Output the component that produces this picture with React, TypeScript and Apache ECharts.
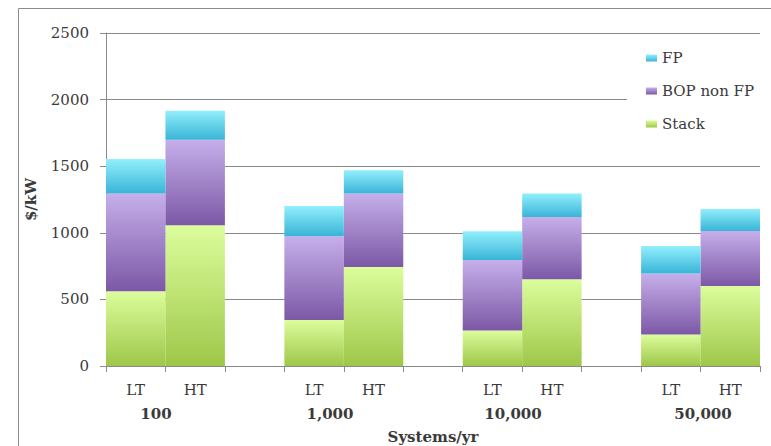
import React, { useEffect, useRef } from "react";
import * as echarts from "echarts";

// Production volume groups and the two stack technologies shown in each
const groups = ["100", "1,000", "10,000", "50,000"];
const technologies = ["LT", "HT"];

// Cost components in $/kW, one value per group
const stackLT = [562, 345, 267, 237];
const stackHT = [1057, 744, 652, 600];
const bopLT = [733, 630, 528, 458];
const bopHT = [642, 551, 467, 414];
const fpLT = [259, 227, 217, 205];
const fpHT = [218, 174, 176, 165];

const yTicks = { min: 0, max: 2500, interval: 500 };

const FONT = "DejaVu Serif";
const TEXT = "#3a3a3a";
const LINE = "#8a8a8a";

// Categories: LT, HT pairs separated by an empty spacer slot
const categories: string[] = [];
groups.forEach((_, gi) => {
  technologies.forEach((t) => categories.push(t));
  if (gi < groups.length - 1) categories.push("");
});

function build(lt: number[], ht: number[]) {
  const out: (number | null)[] = [];
  groups.forEach((_, gi) => {
    out.push(lt[gi], ht[gi]);
    if (gi < groups.length - 1) out.push(null);
  });
  return out;
}

function grad(top: string, bottom: string) {
  return new echarts.graphic.LinearGradient(0, 0, 0, 1, [
    { offset: 0, color: top },
    { offset: 1, color: bottom },
  ]);
}

const groupLabelX = [156, 330, 513, 703];

export default function App() {
  const ref = useRef<HTMLDivElement>(null);

  useEffect(() => {
    if (!ref.current) return;
    const chart = echarts.init(ref.current, null, { renderer: "svg" });
    const barCommon = {
      type: "bar" as const,
      stack: "cost",
      barWidth: "100%",
      barCategoryGap: 0,
      barGap: "0%",
    };
    chart.setOption({
      animation: false,
      backgroundColor: "#ffffff",
      grid: { left: 106, right: 11, top: 33, bottom: 80, outerBoundsMode: "none", containLabel: false },
      legend: {
        orient: "vertical",
        left: 627,
        top: 40,
        padding: [9, 10, 17, 19],
        backgroundColor: "#ffffff",
        itemWidth: 11,
        itemHeight: 7,
        itemGap: 15,
        icon: "rect",
        data: ["FP", "BOP non FP", "Stack"],
        textStyle: { fontFamily: FONT, fontSize: 15, color: TEXT, lineHeight: 18 },
      },
      xAxis: {
        type: "category",
        data: categories,
        name: "Systems/yr",
        nameLocation: "middle",
        nameGap: 63,
        nameTextStyle: { fontFamily: FONT, fontSize: 15, fontWeight: "bold", color: TEXT },
        axisLine: { lineStyle: { color: LINE } },
        axisTick: { show: true, interval: 0, length: 6, lineStyle: { color: LINE } },
        axisLabel: { interval: 0, margin: 16, fontFamily: FONT, fontSize: 15, color: TEXT },
      },
      yAxis: {
        type: "value",
        min: yTicks.min,
        max: yTicks.max,
        interval: yTicks.interval,
        name: "$/kW",
        nameLocation: "middle",
        nameRotate: 90,
        nameGap: 68,
        nameTextStyle: { fontFamily: FONT, fontSize: 15, fontWeight: "bold", color: TEXT },
        axisLine: { show: true, lineStyle: { color: LINE } },
        axisTick: { show: true, length: 6, lineStyle: { color: LINE } },
        axisLabel: {
          margin: 17,
          fontFamily: FONT,
          fontSize: 15,
          color: TEXT,
          formatter: (v: number) => String(v),
        },
        splitLine: { lineStyle: { color: LINE } },
      },
      series: [
        {
          ...barCommon,
          name: "Stack",
          data: build(stackLT, stackHT),
          itemStyle: { color: grad("#dcfd9c", "#9ec749") },
        },
        {
          ...barCommon,
          name: "BOP non FP",
          data: build(bopLT, bopHT),
          itemStyle: { color: grad("#c6afea", "#7c58a6") },
        },
        {
          ...barCommon,
          name: "FP",
          data: build(fpLT, fpHT),
          itemStyle: { color: grad("#92effc", "#39b4d7") },
        },
      ],
      graphic: [
        {
          type: "rect",
          z: -1,
          shape: { x: 18.5, y: 8.5, width: 800, height: 500 },
          style: { fill: "none", stroke: "#8c8c8c", lineWidth: 1 },
        },
        ...groups.map((g, gi) => ({
          type: "text",
          x: groupLabelX[gi],
          y: 414,
          style: {
            text: g,
            fontFamily: FONT,
            fontSize: 15,
            fontWeight: "bold",
            fill: TEXT,
            textAlign: "center",
            textVerticalAlign: "middle",
          },
        })),
      ],
    });
    return () => chart.dispose();
  }, []);

  return (
    <div
      ref={ref}
      style={{ position: "fixed", left: 0, top: 0, width: 771, height: 446 }}
    />
  );
}
